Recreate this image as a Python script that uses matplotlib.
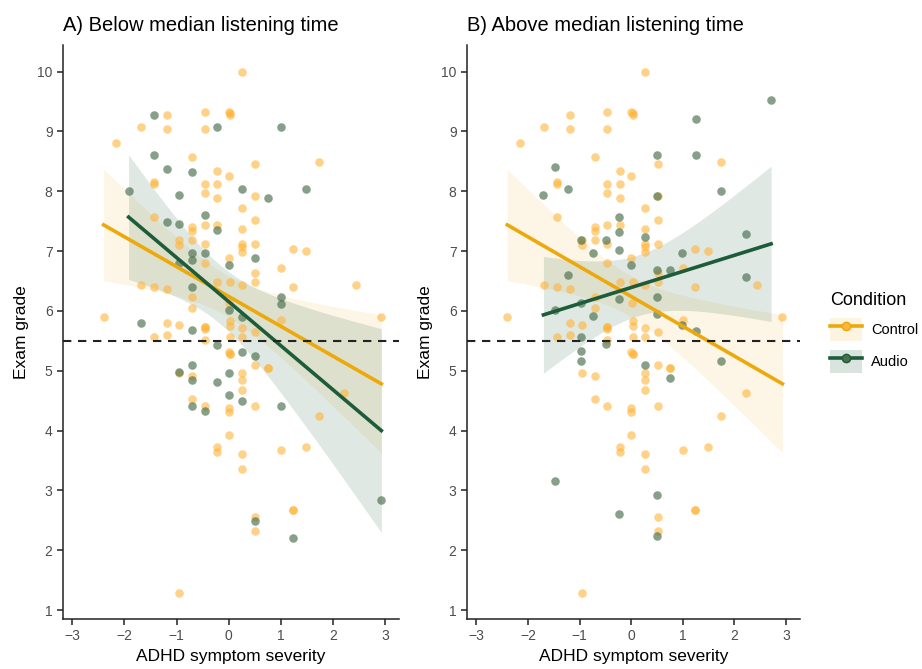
import matplotlib
matplotlib.use("Agg")
import matplotlib.pyplot as plt
from matplotlib.lines import Line2D
from matplotlib.patches import Patch
import numpy as np

plt.rcParams['font.family'] = ['Liberation Sans', 'DejaVu Sans']

# control group (same in both panels)
ctrl_x = [-2.40, -2.16, -1.68, -1.68, -1.43, -1.43, -1.43, -1.43, -1.43,
          -1.19, -1.19, -1.19, -1.19, -1.19, -0.95, -0.95, -0.95, -0.95, -0.95,
          -0.70, -0.70, -0.70, -0.70, -0.70, -0.70, -0.70, -0.70,
          -0.46, -0.46, -0.46, -0.46, -0.46, -0.46, -0.46, -0.46, -0.46, -0.46, -0.46, -0.46,
          -0.22, -0.22, -0.22, -0.22, -0.22, -0.22, -0.22,
          0.00, 0.03, 0.03, 0.00, 0.00, 0.03, 0.01, 0.03, 0.03, 0.03, 0.00, 0.03, 0.03,
          0.00, 0.00, 0.00,
          0.26, 0.26, 0.26, 0.26, 0.26, 0.26, 0.26, 0.26, 0.26, 0.26, 0.26, 0.26, 0.26, 0.26,
          0.51, 0.51, 0.51, 0.51, 0.51, 0.51, 0.51, 0.51, 0.51, 0.51, 0.51,
          0.75, 0.75, 1.00, 1.00, 1.00, 1.24, 1.24, 1.24, 1.24, 1.48, 1.48, 1.73, 1.73,
          2.22, 2.44, 2.93]
ctrl_y = [5.89, 8.81, 9.08, 6.44, 8.15, 8.12, 7.57, 6.40, 5.57,
          9.28, 9.04, 6.36, 5.80, 5.60, 7.18, 7.10, 5.76, 4.96, 1.28,
          8.57, 7.40, 7.33, 7.18, 6.23, 6.05, 4.92, 4.52,
          9.33, 9.04, 8.12, 7.97, 7.44, 7.12, 6.80, 5.73, 5.73, 5.70, 5.52, 4.41,
          8.33, 8.12, 7.89, 7.44, 6.48, 3.73, 3.64,
          9.33, 9.31, 9.28, 8.25, 6.89, 6.49, 6.13, 5.83, 5.74, 5.57, 5.31, 5.28, 5.28,
          4.38, 4.31, 3.92,
          10.0, 7.72, 7.37, 7.11, 7.06, 6.99, 6.44, 5.72, 5.57, 4.96, 4.84, 4.68, 3.60, 3.36,
          8.45, 7.92, 7.52, 7.11, 6.64, 6.49, 5.65, 5.09, 4.41, 2.56, 2.32,
          5.04, 5.04, 6.72, 5.85, 3.68, 7.04, 6.40, 2.68, 2.68, 7.00, 3.73, 8.49, 4.24,
          4.62, 6.44, 5.89]

# audio group, below median listening time
below_x = [-1.92, -1.68, -1.43, -1.43, -1.19, -1.19, -0.95, -0.95, -0.95, -0.95,
           -0.70, -0.70, -0.70, -0.70, -0.70, -0.70, -0.70, -0.70,
           -0.46, -0.46, -0.46, -0.22, -0.22, -0.22, -0.22,
           0.00, 0.00, 0.00, 0.00, 0.26, 0.26, 0.26, 0.26,
           0.51, 0.51, 0.51, 0.75, 1.00, 1.00, 1.00, 1.00, 1.24, 1.48, 2.93]
below_y = [8.00, 5.80, 9.28, 8.60, 8.37, 7.49, 7.93, 7.45, 6.80, 4.98,
           8.32, 6.97, 6.85, 6.40, 5.68, 5.09, 4.84, 4.41,
           7.61, 6.97, 4.32, 9.08, 7.36, 5.43, 4.81,
           6.76, 6.01, 4.96, 4.60, 8.04, 5.89, 5.32, 4.50,
           6.89, 5.24, 2.48, 7.89, 9.08, 6.24, 6.12, 4.41, 2.20, 8.04, 2.84]

# audio group, above median listening time
above_x = [-1.70, -1.47, -1.47, -1.47, -1.23, -1.23, -0.97, -0.97, -0.97, -0.97, -0.97,
           -0.73, -0.73, -0.48, -0.48, -0.24, -0.24, -0.24, -0.24, -0.24,
           0.00, 0.26, 0.26, 0.50, 0.50, 0.50, 0.50, 0.50, 0.50, 0.50,
           0.75, 0.75, 0.99, 0.99, 1.25, 1.25, 1.25, 1.73, 1.73, 2.22, 2.22, 2.71]
above_y = [7.93, 8.40, 6.02, 3.16, 8.04, 6.60, 7.18, 6.14, 5.57, 5.33, 5.16,
           6.97, 5.92, 7.18, 5.45, 7.57, 7.32, 7.01, 6.20, 2.60,
           6.76, 7.24, 5.09, 8.61, 7.92, 6.69, 6.24, 5.95, 2.92, 2.24,
           6.69, 4.88, 6.97, 5.77, 9.20, 8.61, 5.66, 8.00, 5.16, 7.28, 6.56, 9.52]

titles = ["A) Below median listening time", "B) Above median listening time"]
conditions = ["Control", "Audio"]

orange = "#EDA90B"
orange_pt = "#FFB43A"
green = "#1D5C3A"
green_pt = "#486E4C"


def lm_band(x, y):
    x = np.asarray(x)
    y = np.asarray(y)
    b, a = np.polyfit(x, y, 1)
    xs = np.linspace(x.min(), x.max(), 100)
    n = len(x)
    resid = y - (a + b * x)
    s = np.sqrt(np.sum(resid ** 2) / (n - 2))
    se = s * np.sqrt(1 / n + (xs - x.mean()) ** 2 / np.sum((x - x.mean()) ** 2))
    t = 1.99
    yh = a + b * xs
    return xs, yh, yh - t * se, yh + t * se


fig = plt.figure(figsize=(9.22, 6.69), dpi=100)
ax1 = fig.add_axes([0.0683, 0.0747, 0.3645, 0.8586])
ax2 = fig.add_axes([0.5065, 0.0747, 0.3612, 0.8586])

for ax, ttl, ax_x, ax_y in [(ax1, titles[0], below_x, below_y), (ax2, titles[1], above_x, above_y)]:
    ax.scatter(ctrl_x, ctrl_y, s=38, color=orange_pt, alpha=0.6, linewidths=0, zorder=2)
    ax.scatter(ax_x, ax_y, s=38, color=green_pt, alpha=0.65, linewidths=0, zorder=2)

    xs, yh, lo, hi = lm_band(ctrl_x, ctrl_y)
    ax.fill_between(xs, lo, hi, color=orange, alpha=0.1, linewidth=0, zorder=1)
    ax.plot(xs, yh, color=orange, lw=2.6, zorder=4)

    xs, yh, lo, hi = lm_band(ax_x, ax_y)
    ax.fill_between(xs, lo, hi, color=green, alpha=0.14, linewidth=0, zorder=1)
    ax.plot(xs, yh, color=green, lw=2.6, zorder=4)

    ax.axhline(5.5, color="#222222", lw=1.5, ls=(0, (4, 3.2)), zorder=5)

    ax.set_xlim(-3.18, 3.27)
    ax.set_ylim(0.85, 10.45)
    ax.set_xticks(range(-3, 4))
    ax.set_yticks(range(1, 11))
    ax.spines['top'].set_visible(False)
    ax.spines['right'].set_visible(False)
    for sp in ['left', 'bottom']:
        ax.spines[sp].set_linewidth(1.1)
        ax.spines[sp].set_color("#222222")
    ax.tick_params(labelsize=10, colors="#222222", labelcolor="#4D4D4D", length=4, width=1.1)
    ax.set_xlabel("ADHD symptom severity", fontsize=12.5, labelpad=4)
    ax.set_ylabel("Exam grade", fontsize=12.5, labelpad=6)
    ax.set_title(ttl, loc="left", fontsize=14.5, pad=10, x=0.0)

handles = [(Patch(facecolor=orange, alpha=0.12, edgecolor="none"),
            Line2D([], [], color=orange, lw=2.6, marker="o", ms=6, markerfacecolor=orange_pt)),
           (Patch(facecolor=green, alpha=0.16, edgecolor="none"),
            Line2D([], [], color=green, lw=2.6, marker="o", ms=6, markerfacecolor=green_pt))]
leg = fig.legend(handles, conditions, title="Condition", loc="upper left",
                 bbox_to_anchor=(0.886, 0.583), frameon=False, fontsize=10.5,
                 title_fontsize=13, handlelength=2.2, handleheight=2.05,
                 handletextpad=0.6, labelspacing=0.6)
leg._legend_box.align = "left"

fig.savefig("out.png", dpi=100)
